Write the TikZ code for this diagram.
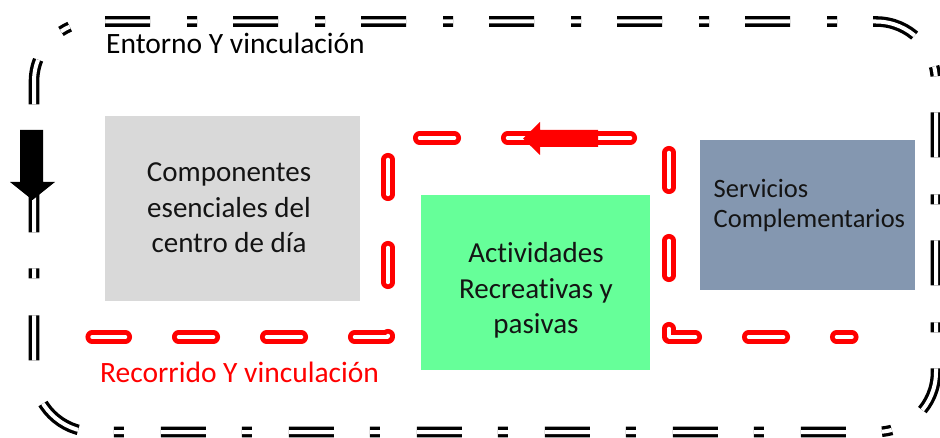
\documentclass[tikz,border=0pt]{standalone}
\usepackage{fontspec}
\setmainfont{Carlito}[Ligatures=NoCommon]
\definecolor{boxgrey}{HTML}{D9D9D9}
\definecolor{boxgreen}{HTML}{66FF99}
\definecolor{boxblue}{HTML}{8497B0}
\definecolor{routered}{HTML}{FF0000}
\definecolor{textdark}{HTML}{141414}
\begin{document}
\begin{tikzpicture}[x=1pt,y=-1pt,
  outerline/.style={draw=black, line width=3.3pt, double=white, double distance=4pt,
    dash pattern=on 45pt off 37pt on 10pt off 36pt, line cap=butt, rounded corners=60pt},
  outerlinerev/.style={outerline, dash pattern=on 10pt off 37pt on 45pt off 36pt, dash phase=92pt},
  routeline/.style={draw=routered, line width=4.8pt, double=white, double distance=3.5pt,
    dash pattern=on 35pt off 53pt, dash phase=19.5pt, line cap=round, line join=round},
  area/.style={draw=none, inner sep=0pt, outer sep=0pt},
  boxtext/.style={inner sep=0pt, align=center, text=textdark, font=\fontsize{29}{35.5}\selectfont},
  label/.style={inner sep=0pt, anchor=base west, font=\fontsize{29.5}{35}\selectfont}
]
\useasboundingbox (0,0) rectangle (940,438);

% outer border (Entorno)
\draw[outerline] (105,21.5) -- (936,21.5) -- (936,432) -- (34,432) -- (34,372);
\draw[outerlinerev] (105,21.5) -- (34,21.5) -- (34,372);

% areas
\node[area, fill=boxgrey, minimum width=255pt, minimum height=185pt] (comp) at (232.5,208.5) {};
\node[area, fill=boxgreen, minimum width=229pt, minimum height=175pt] (activ) at (535.5,282.5) {};
\node[area, fill=boxblue, minimum width=215pt, minimum height=150pt] (serv) at (807.5,215) {};

% route (Recorrido)
\coordinate (rA) at (852,337);
\coordinate (rB) at (669,337);
\coordinate (rC) at (669,138);
\coordinate (rD) at (388,138);
\coordinate (rE) at (388,337);
\coordinate (rF) at (92,337);
\draw[routeline] (rA) -- (rB) -- (rC) -- (rD) -- (rE) -- (rF);

% direction arrows
\fill[routered] (523,138.5) -- (540,122) -- (540,130) -- (598,130) -- (598,147) -- (540,147) -- (540,155) -- cycle;
\fill[black] (20,130) -- (43,130) -- (43,182) -- (55,182) -- (32.5,200) -- (10,182) -- (20,182) -- cycle;

% texts
\node[boxtext] (comptext) at (229,208) {Componentes\\esenciales del\\centro de día};
\node[boxtext] (activtext) at (536,290.5) {Actividades\\Recreativas y\\pasivas};
\node[boxtext, align=left, anchor=west, font=\fontsize{26.5}{30}\selectfont] (servtext) at (713.5,206) {Servicios\\Complementarios};
\node[label, text=black] (entorno) at (106,53.5) {Entorno Y vinculación};
\node[label, text=routered] (recorrido) at (100,382) {Recorrido Y vinculación};
\end{tikzpicture}
\end{document}
